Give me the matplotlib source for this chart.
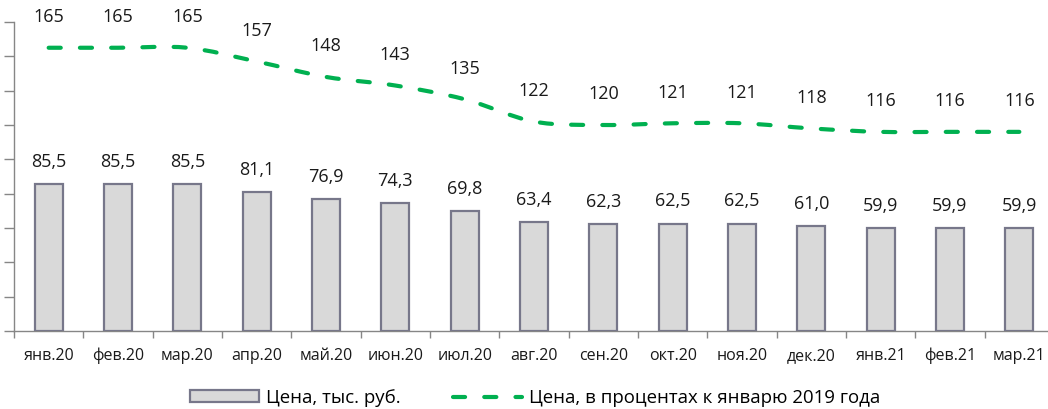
import matplotlib.pyplot as plt
import numpy as np
from matplotlib.path import Path
from matplotlib.patches import PathPatch, Patch
from matplotlib.lines import Line2D

plt.rcParams['font.family'] = ['Open Sans', 'DejaVu Sans']

# Данные
months = ['янв.20', 'фев.20', 'мар.20', 'апр.20', 'май.20', 'июн.20', 'июл.20', 'авг.20',
          'сен.20', 'окт.20', 'ноя.20', 'дек.20', 'янв.21', 'фев.21', 'мар.21']
price = [85.5, 85.5, 85.5, 81.1, 76.9, 74.3, 69.8, 63.4, 62.3, 62.5, 62.5, 61.0, 59.9, 59.9, 59.9]
price_pct = [165, 165, 165, 157, 148, 143, 135, 122, 120, 121, 121, 118, 116, 116, 116]

green = '#00B050'

fig = plt.figure(figsize=(10.48, 4.09), dpi=100)
ax = fig.add_axes([14 / 1048, 78 / 409, 1040 / 1048, 309 / 409])

x = np.arange(len(months))
ax.bar(x, price, width=0.4, color='#D9D9D9', edgecolor='#77778A', linewidth=1.6, zorder=3)

# Сглаженная линия (как в Excel): кривые Безье через точки
pts = np.column_stack([x, price_pct]).astype(float)
verts = [tuple(pts[0])]
codes = [Path.MOVETO]
n = len(pts)
for i in range(n - 1):
    p0 = pts[i - 1] if i > 0 else pts[i]
    p1 = pts[i]
    p2 = pts[i + 1]
    p3 = pts[i + 2] if i + 2 < n else pts[i + 1]
    c1 = p1 + (p2 - p0) / 6
    c2 = p2 - (p3 - p1) / 6
    verts += [tuple(c1), tuple(c2), tuple(p2)]
    codes += [Path.CURVE4] * 3
dash = (0, (2.9, 4.6))
curve = PathPatch(Path(verts, codes), fill=False, edgecolor=green, linewidth=3,
                  linestyle=dash, capstyle='round', zorder=4)
ax.add_patch(curve)

# Подписи значений
for xi, v in zip(x, price):
    ax.annotate(f'{v:.1f}'.replace('.', ','), (xi, v), xytext=(0, 16), textcoords='offset points',
                ha='center', va='center', fontsize=13, color='#1a1a1a')
for xi, v in zip(x, price_pct):
    ax.annotate(f'{v}', (xi, v), xytext=(0, 22), textcoords='offset points',
                ha='center', va='center', fontsize=13, color='#1a1a1a')

ax.set_xlim(-0.5, len(months) - 0.5)
ax.set_ylim(0, 180)
ax.set_yticks(np.arange(0, 181, 20))
ax.set_yticklabels([])
ax.tick_params(axis='y', direction='out', length=7, color='#868686', width=1)
ax.set_xticks(x)
ax.set_xticklabels(months, fontsize=11.5, color='#1a1a1a')
ax.set_xticks(np.arange(-0.5, len(months)), minor=True)
ax.tick_params(axis='x', which='major', length=0, pad=12)
ax.tick_params(axis='x', which='minor', direction='out', length=5, color='#868686', width=1)

for s in ['top', 'right']:
    ax.spines[s].set_visible(False)
for s in ['left', 'bottom']:
    ax.spines[s].set_color('#868686')
    ax.spines[s].set_linewidth(1)

handles = [Patch(facecolor='#D9D9D9', edgecolor='#77778A', linewidth=1.6),
           Line2D([0], [0], color=green, linewidth=3, linestyle=dash, dash_capstyle='round')]
fig.legend(handles, ['Цена, тыс. руб.', 'Цена, в процентах к январю 2019 года'],
           loc='center left', bbox_to_anchor=(190 / 1048, 0.027), ncol=2, frameon=False,
           fontsize=13.4, handlelength=3.7, handleheight=0.6, columnspacing=2.8,
           handletextpad=0.4, borderpad=0, borderaxespad=0)

plt.savefig('out.png', dpi=100)
